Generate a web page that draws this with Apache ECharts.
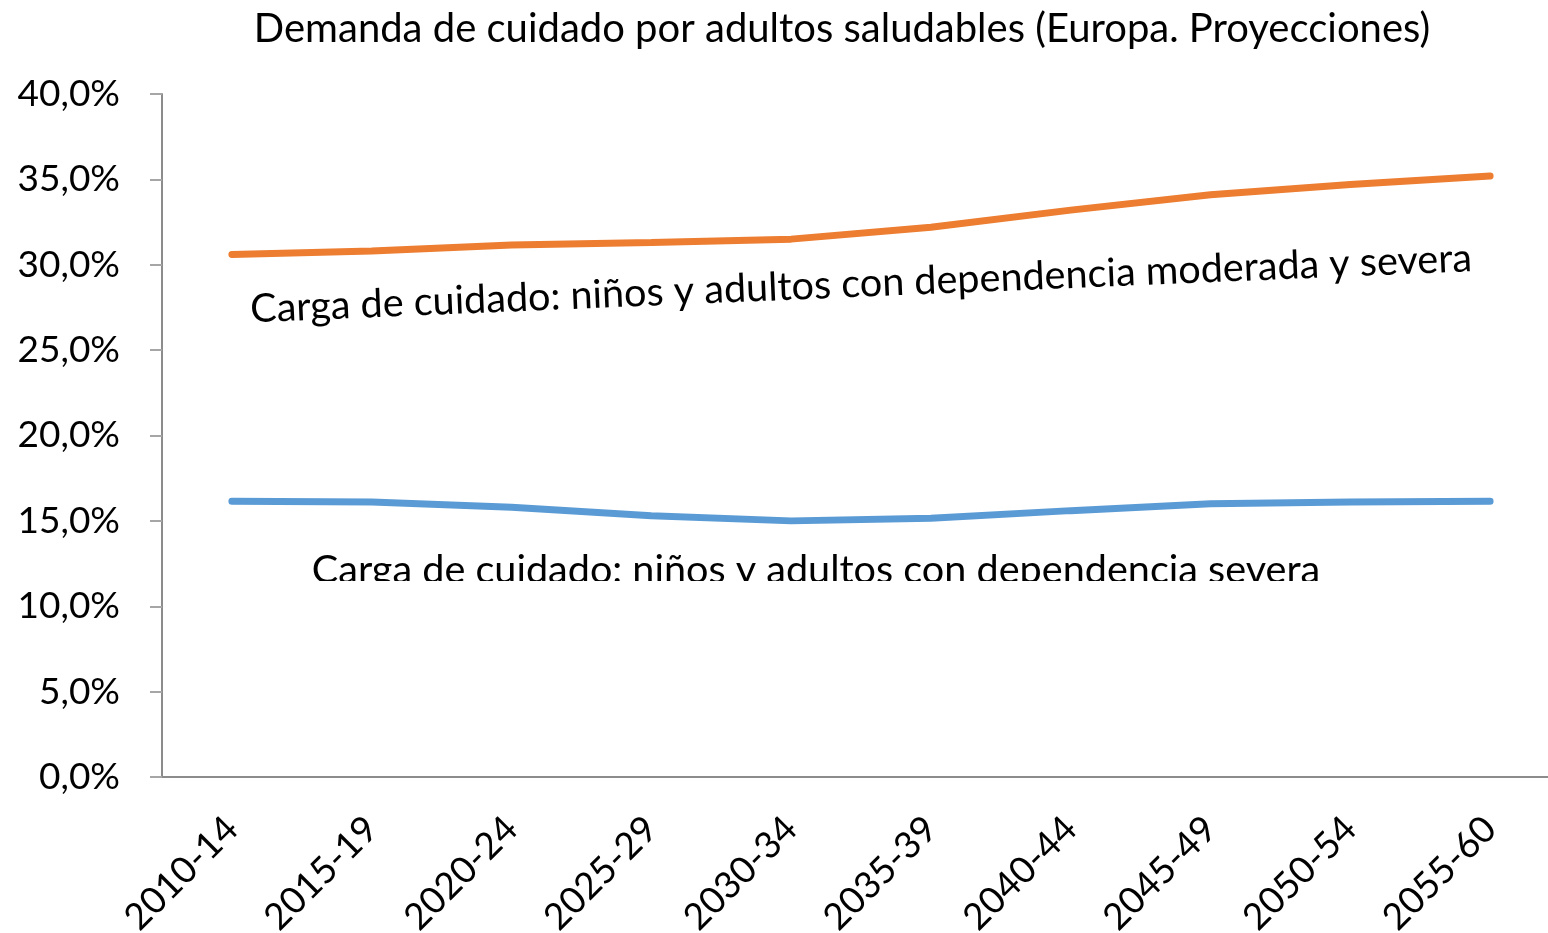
<!DOCTYPE html>
<html>
<head>
<meta charset="utf-8">
<script src="https://cdn.jsdelivr.net/npm/echarts@6/dist/echarts.min.js"></script>
<style>
  html, body { margin: 0; padding: 0; background: #fff; }
  #chart { width: 1548px; height: 933px; }
</style>
</head>
<body>
<div id="chart"></div>
<script>
const periods = ['2010-14', '2015-19', '2020-24', '2025-29', '2030-34', '2035-39', '2040-44', '2045-49', '2050-54', '2055-60'];
const moderadaSevera = [30.6, 30.8, 31.15, 31.3, 31.5, 32.2, 33.2, 34.1, 34.7, 35.2];
const severa = [16.15, 16.1, 15.8, 15.3, 15.0, 15.15, 15.6, 16.0, 16.1, 16.15];
const yTicks = [0, 5, 10, 15, 20, 25, 30, 35, 40];

const FONT = 'Lato, "Open Sans", sans-serif';

let myChart = echarts.init(document.getElementById('chart'));
let option;

option = {
  backgroundColor: '#fff',
  animation: false,
  title: {
    text: 'Demanda de cuidado por adultos saludables (Europa. Proyecciones)',
    left: 837,
    top: 4,
    textAlign: 'center',
    textStyle: { fontFamily: FONT, fontSize: 40, fontWeight: 'normal', color: '#000' }
  },
  // the plot runs a little past the right edge of the picture
  grid: { left: 162, top: 94, bottom: 156, width: 1398, outerBoundsMode: 'none', containLabel: false },
  xAxis: {
    type: 'category',
    data: periods,
    boundaryGap: true,
    axisLine: { lineStyle: { color: '#8c8c8c', width: 2 } },
    axisTick: { alignWithLabel: false, length: 14, lineStyle: { color: '#a6a6a6', width: 2 } },
    axisLabel: { rotate: 45, margin: 46, fontFamily: FONT, fontSize: 37, color: '#000' },
    splitLine: { show: false }
  },
  yAxis: {
    type: 'value',
    min: yTicks[0],
    max: yTicks[yTicks.length - 1],
    interval: 5,
    axisLine: { show: true, lineStyle: { color: '#8c8c8c', width: 2 } },
    axisTick: { show: true, inside: false, length: 12, lineStyle: { color: '#a6a6a6', width: 2 } },
    axisLabel: {
      margin: 42,
      fontFamily: FONT, fontSize: 37, color: '#000',
      formatter: v => v.toFixed(1).replace('.', ',') + '%'
    },
    splitLine: { show: false }
  },
  series: [
    {
      name: 'Carga de cuidado: niños y adultos con dependencia moderada y severa',
      type: 'line',
      data: moderadaSevera,
      symbol: 'none',
      lineStyle: { color: '#ED7D31', width: 7, cap: 'round' },
      z: 3
    },
    {
      name: 'Carga de cuidado: niños y adultos con dependencia severa',
      type: 'line',
      data: severa,
      symbol: 'none',
      lineStyle: { color: '#5B9BD5', width: 7, cap: 'round' },
      z: 3
    }
  ],
  graphic: [
    {
      type: 'text',
      x: 861, y: 284,
      rotation: 2.4 * Math.PI / 180,
      style: {
        text: 'Carga de cuidado: niños y adultos con dependencia moderada y severa',
        fontFamily: FONT, fontSize: 39.6, fill: '#000',
        textAlign: 'center', textVerticalAlign: 'middle'
      },
      z: 10
    },
    {
      type: 'text',
      x: 816, y: 570,
      style: {
        text: 'Carga de cuidado: niños y adultos con dependencia severa',
        fontFamily: FONT, fontSize: 39.6, fill: '#000',
        textAlign: 'center', textVerticalAlign: 'middle'
      },
      z: 10
    },
    {
      type: 'rect',
      shape: { x: 290, y: 581, width: 1060, height: 26 },
      style: { fill: '#fff' },
      z: 11
    }
  ]
};

option && myChart.setOption(option);
</script>
</body>
</html>
